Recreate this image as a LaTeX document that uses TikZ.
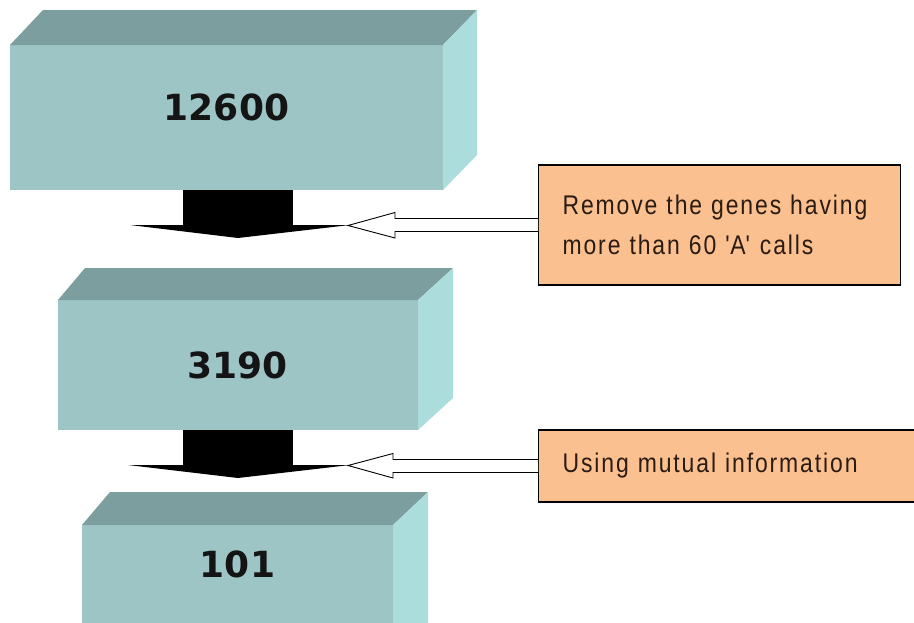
\documentclass[tikz,border=0pt]{standalone}
\usepackage{fontspec}
\setmainfont{Liberation Sans}
\newfontfamily\numfont{DejaVu Sans}
\newfontfamily\notefont[FakeStretch=0.85,LetterSpace=7]{Liberation Sans}
\usetikzlibrary{calc}
\definecolor{frontc}{HTML}{9EC5C5}
\definecolor{topc}{HTML}{7D9E9E}
\definecolor{sidec}{HTML}{ACDDDD}
\definecolor{notec}{HTML}{FAC090}
\definecolor{notetext}{HTML}{2B1B12}
\begin{document}
\begin{tikzpicture}[x=1pt,y=-1pt,
  face/.style={fill=frontc, inner sep=0pt, outer sep=0pt},
  num/.style={font=\numfont\bfseries\fontsize{36}{36}\selectfont, text=black!92},
  note/.style={draw=black, line width=1.2pt, fill=notec, inner xsep=24pt, inner ysep=0pt,
    align=left, text=notetext, font=\notefont\fontsize{27}{40}\selectfont, anchor=west},
  flowarrow/.style={fill=black},
  hollow/.style={draw=black, line width=0.9pt, fill=white, line join=miter}]
\clip (0,0) rectangle (914,622);
\fill[white] (0,0) rectangle (914,622);

% box 1
\node[face, minimum width=433pt, minimum height=145pt] (f1) at (226.5,117.5) {};
\fill[topc] (f1.north west) -- ++(33,-35) -- ($(f1.north east)+(34,-35)$) -- (f1.north east) -- cycle;
\fill[sidec] (f1.north east) -- ++(34,-35) -- ++(0,145) -- (f1.south east) -- cycle;
\node[num] (n1) at (226.5,107) {12600};

% box 2
\node[face, minimum width=360pt, minimum height=130pt] (f2) at (238,365) {};
\fill[topc] (f2.north west) -- ++(27,-32) -- ($(f2.north east)+(35,-32)$) -- (f2.north east) -- cycle;
\fill[sidec] (f2.north east) -- ++(35,-32) -- ++(0,130) -- (f2.south east) -- cycle;
\node[num] (n2) at (237.5,365) {3190};

% box 3
\node[face, minimum width=311pt, minimum height=135pt] (f3) at (237.5,592.5) {};
\fill[topc] (f3.north west) -- ++(28,-33) -- ($(f3.north east)+(35,-33)$) -- (f3.north east) -- cycle;
\fill[sidec] (f3.north east) -- ++(35,-33) -- ++(0,135) -- (f3.south east) -- cycle;
\node[num] (n3) at (237.5,564) {101};

% black flow arrows
\coordinate (s1a) at (183,190);
\coordinate (s1b) at (293,225);
\coordinate (t1) at (238,238);
\fill[flowarrow] (s1a) rectangle (s1b);
\fill[flowarrow] (130,225) -- (350,225) -- (t1) -- cycle;

\coordinate (s2a) at (183,430);
\coordinate (s2b) at (293,465);
\coordinate (t2) at (238,478);
\fill[flowarrow] (s2a) rectangle (s2b);
\fill[flowarrow] (128,465) -- (350,465) -- (t2) -- cycle;

% notes
\node[note, minimum height=120pt, text width=314pt] (o1) at (538,225)
  {\makebox[316pt][s]{Remove the genes having}\\more than 60 \textquotesingle A\textquotesingle\ calls};
\node[note, minimum height=72pt, text width=360pt] (o2) at (538,466) {Using mutual information};

% hollow arrows
\draw[hollow] ($(o1.west)+(0,-6.5)$) -- ($(o1.west)+(-143,-6.5)$) -- ($(o1.west)+(-143,-12.5)$)
  -- ($(o1.west)+(-190,0.5)$) -- ($(o1.west)+(-143,13)$) -- ($(o1.west)+(-143,6.5)$) -- ($(o1.west)+(0,6.5)$);
\draw[hollow] ($(o2.west)+(0,-6.5)$) -- ($(o2.west)+(-145,-6.5)$) -- ($(o2.west)+(-145,-12.5)$)
  -- ($(o2.west)+(-190,-0.5)$) -- ($(o2.west)+(-145,12)$) -- ($(o2.west)+(-145,6.5)$) -- ($(o2.west)+(0,6.5)$);
\end{tikzpicture}
\end{document}
